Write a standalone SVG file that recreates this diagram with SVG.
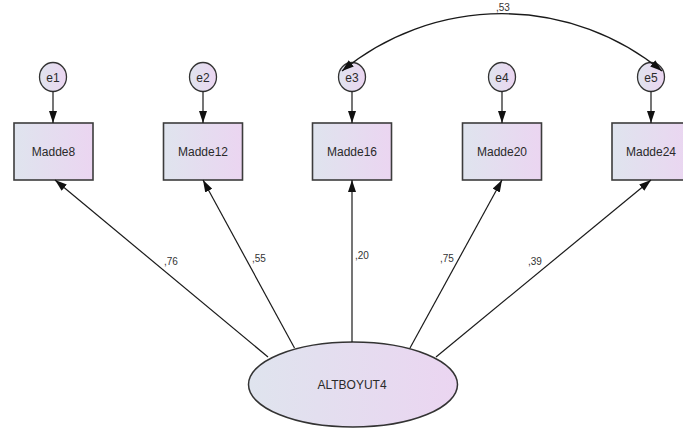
<svg xmlns="http://www.w3.org/2000/svg" width="683" height="433" viewBox="0 0 683 433">
  <defs>
    <linearGradient id="fillg" x1="0" y1="0" x2="1" y2="0">
      <stop offset="0" stop-color="#dfe4ee"/>
      <stop offset="1" stop-color="#ebd5f1"/>
    </linearGradient>
    <marker id="arr" markerUnits="userSpaceOnUse" markerWidth="13" markerHeight="9" refX="12" refY="4" orient="auto-start-reverse">
      <path d="M0,0 L12,4 L0,8 z" fill="#111"/>
    </marker>
  </defs>
  <style>
    .box { fill: url(#fillg); stroke: #3c3c3c; stroke-width: 1.6; }
    .err { fill: url(#fillg); stroke: #333; stroke-width: 1.3; }
    .lat { fill: url(#fillg); stroke: #333; stroke-width: 1.5; }
    .lbl { font-family: "Liberation Sans", Arial, sans-serif; font-size: 12px; fill: #2a2a2a; text-anchor: middle; }
    .num { font-family: "Liberation Sans", Arial, sans-serif; font-size: 10px; fill: #333; }
    .con { stroke: #1a1a1a; stroke-width: 1.2; fill: none; marker-end: url(#arr); }
    .cov { stroke: #1a1a1a; stroke-width: 1.3; fill: none; marker-start: url(#arr); marker-end: url(#arr); }
  </style>

  <g id="e1"><ellipse class="err" cx="53" cy="77" rx="13.5" ry="14.5"/><text class="lbl" x="53" y="81.5">e1</text></g>
  <g id="e2"><ellipse class="err" cx="203" cy="77" rx="13.5" ry="14.5"/><text class="lbl" x="203" y="81.5">e2</text></g>
  <g id="e3"><ellipse class="err" cx="352" cy="77" rx="13.5" ry="14.5"/><text class="lbl" x="352" y="81.5">e3</text></g>
  <g id="e4"><ellipse class="err" cx="502" cy="77" rx="13.5" ry="14.5"/><text class="lbl" x="502" y="81.5">e4</text></g>
  <g id="e5"><ellipse class="err" cx="651" cy="77" rx="13.5" ry="14.5"/><text class="lbl" x="651" y="81.5">e5</text></g>

  <g id="Madde8"><rect class="box" x="14" y="123" width="79" height="57"/><text class="lbl" x="53.5" y="156">Madde8</text></g>
  <g id="Madde12"><rect class="box" x="163.5" y="123" width="79" height="57"/><text class="lbl" x="203" y="156">Madde12</text></g>
  <g id="Madde16"><rect class="box" x="312.5" y="123" width="79" height="57"/><text class="lbl" x="352" y="156">Madde16</text></g>
  <g id="Madde20"><rect class="box" x="462.5" y="123" width="79" height="57"/><text class="lbl" x="502" y="156">Madde20</text></g>
  <g id="Madde24"><rect class="box" x="612" y="123" width="79" height="57"/><text class="lbl" x="651" y="156">Madde24</text></g>

  <g id="ALTBOYUT4"><ellipse class="lat" cx="353" cy="384.5" rx="104.5" ry="42.5"/><text class="lbl" x="352" y="389">ALTBOYUT4</text></g>

  <g id="connectors">
    <line class="con" x1="53" y1="91.5" x2="53" y2="123"/>
    <line class="con" x1="203" y1="91.5" x2="203" y2="123"/>
    <line class="con" x1="352" y1="91.5" x2="352" y2="123"/>
    <line class="con" x1="502" y1="91.5" x2="502" y2="123"/>
    <line class="con" x1="651" y1="91.5" x2="651" y2="123"/>
    <line class="con" x1="268" y1="357" x2="55" y2="180"/>
    <line class="con" x1="294.5" y1="348" x2="203" y2="180"/>
    <line class="con" x1="352" y1="342" x2="352" y2="180"/>
    <line class="con" x1="410" y1="348" x2="502" y2="180"/>
    <line class="con" x1="436" y1="357" x2="651" y2="180"/>
    <path class="cov" d="M 342 71 A 252 252 0 0 1 662 71"/>
    <text class="num" x="164" y="265">,76</text>
    <text class="num" x="252" y="262">,55</text>
    <text class="num" x="355" y="259">,20</text>
    <text class="num" x="440" y="262">,75</text>
    <text class="num" x="528" y="265">,39</text>
    <text class="num" x="496" y="11">,53</text>
  </g>
</svg>
